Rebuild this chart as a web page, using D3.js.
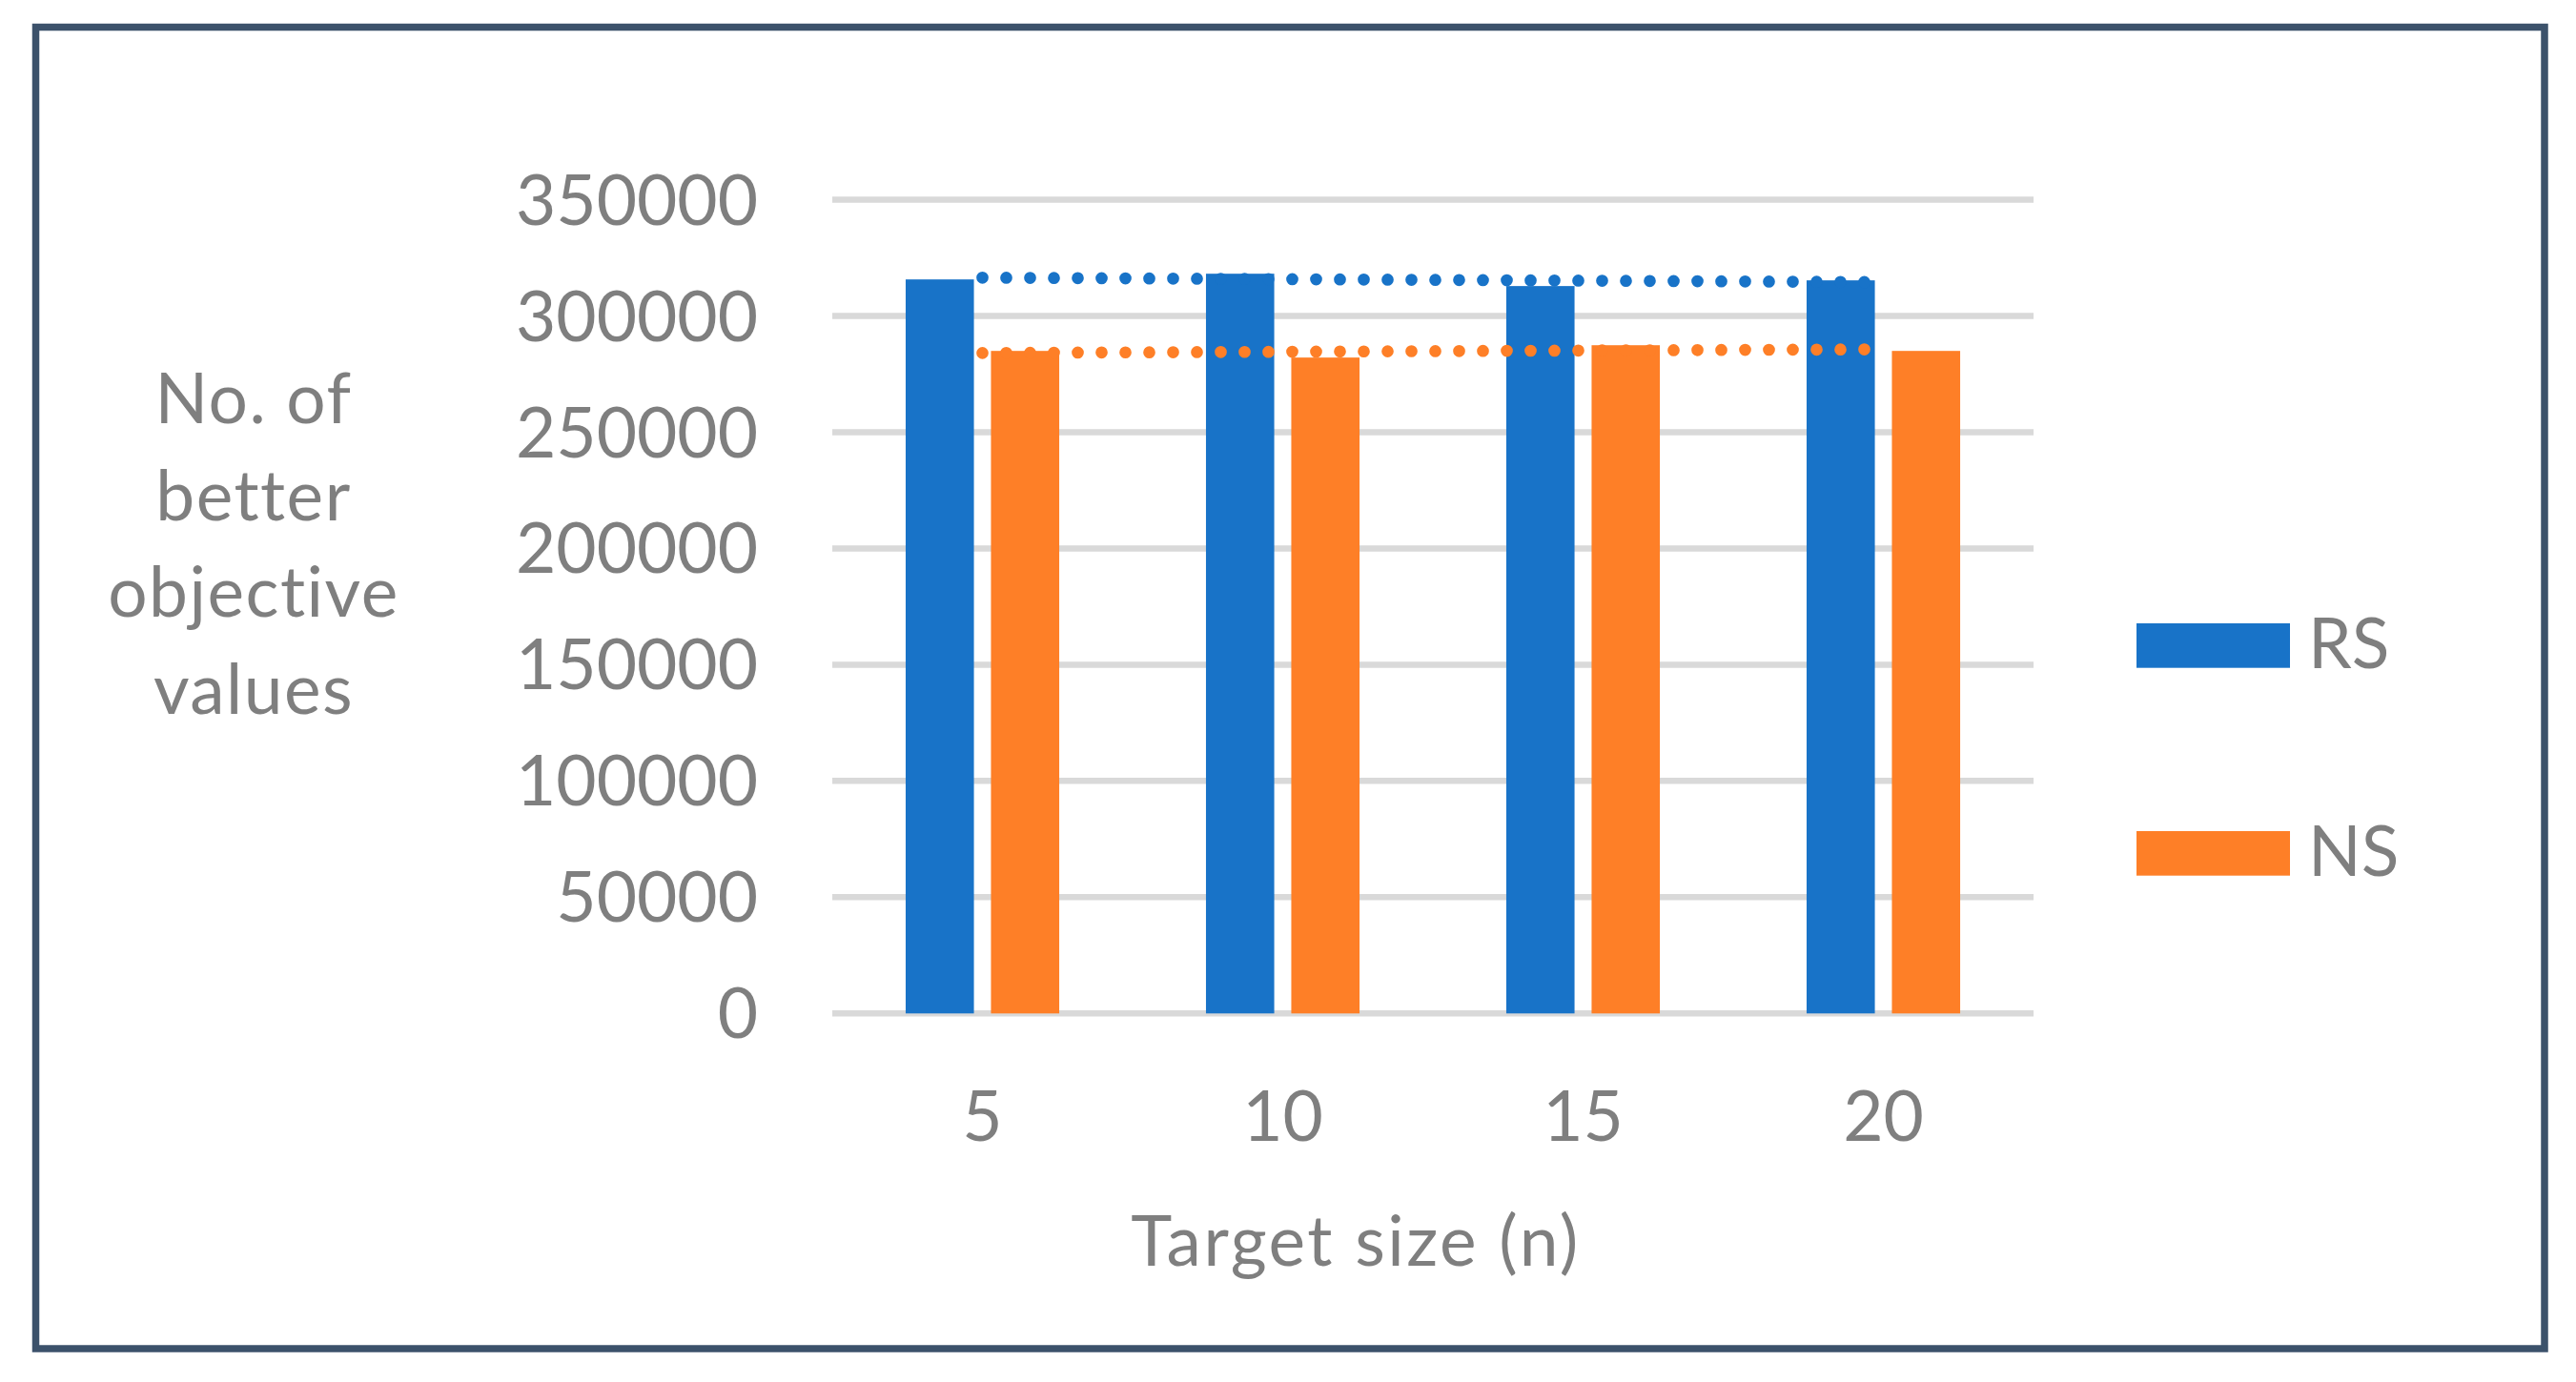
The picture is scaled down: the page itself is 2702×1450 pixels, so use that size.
<!DOCTYPE html>
<html>
<head>
<meta charset="utf-8">
<script src="https://cdn.jsdelivr.net/npm/d3@7"></script>
<style>
  html, body { margin: 0; padding: 0; background: #fff; }
  text { font-family: Lato, "Noto Sans", sans-serif; fill: #7f7f7f; font-variant-ligatures: none; font-feature-settings: "liga" 0; }
</style>
</head>
<body>
<svg id="chart"></svg>
<script>
// data
const categories = ["5", "10", "15", "20"];
const series = ["RS", "NS"];
const rsValues = [315700, 318150, 312850, 315300];
const nsValues = [284950, 282100, 287400, 284950];
const yTicks = [0, 50000, 100000, 150000, 200000, 250000, 300000, 350000];
const yTitle = ["No. of", "better", "objective", "values"];
const xTitle = "Target size (n)";

const colors = {RS: "#1873c8", NS: "#fe7f27"};
const W = 2702, H = 1450;
const plot = {left: 873, right: 2133, top: 209.5, bottom: 1063.3};
const fontSize = 73;

const svg = d3.select("#chart")
  .attr("width", W)
  .attr("height", H);

svg.append("rect")
  .attr("x", 37.5).attr("y", 28.5)
  .attr("width", 2631.5).attr("height", 1386.5)
  .attr("fill", "#fff")
  .attr("stroke", "#3c526b")
  .attr("stroke-width", 7.5);

const x0 = d3.scaleBand()
  .domain(categories)
  .range([plot.left, plot.right]);

const x1 = d3.scaleBand()
  .domain(series)
  .range([0, x0.bandwidth()])
  .paddingInner(0.2)
  .paddingOuter(0.86);

const y = d3.scaleLinear()
  .domain([0, 350000])
  .range([plot.bottom, plot.top]);

// gridlines
svg.append("g")
  .selectAll("line")
  .data(yTicks)
  .join("line")
  .attr("x1", plot.left).attr("x2", plot.right)
  .attr("y1", d => y(d)).attr("y2", d => y(d))
  .attr("stroke", "#d9d9d9")
  .attr("stroke-width", 6.5);

// y axis labels
const yAxis = svg.append("g")
  .attr("transform", `translate(${plot.left},0)`)
  .call(d3.axisLeft(y).tickValues(yTicks).tickSize(0).tickPadding(78).tickFormat(d3.format("d")));
yAxis.select(".domain").remove();
yAxis.selectAll("text")
  .attr("font-size", fontSize)
  .attr("font-family", null)
  .attr("dy", "0.35em");

// x axis labels
const xAxis = svg.append("g")
  .attr("transform", `translate(0,${plot.bottom})`)
  .call(d3.axisBottom(x0).tickSize(0).tickPadding(82));
xAxis.select(".domain").remove();
xAxis.selectAll("text")
  .attr("font-size", fontSize)
  .attr("font-family", null);

// bars
const rows = categories.map((c, i) => ({cat: c, RS: rsValues[i], NS: nsValues[i]}));

svg.append("g")
  .selectAll("g")
  .data(rows)
  .join("g")
  .attr("transform", d => `translate(${x0(d.cat)},0)`)
  .selectAll("rect")
  .data(d => series.map(s => ({key: s, value: d[s]})))
  .join("rect")
  .attr("x", d => x1(d.key))
  .attr("width", x1.bandwidth())
  .attr("y", d => y(d.value))
  .attr("height", d => y(0) - y(d.value))
  .attr("fill", d => colors[d.key]);

// linear trendlines (least squares over category index)
function trend(vals) {
  const n = vals.length;
  const xs = vals.map((v, i) => i + 1);
  const mx = d3.mean(xs), my = d3.mean(vals);
  const slope = d3.sum(xs, (xv, i) => (xv - mx) * (vals[i] - my)) / d3.sum(xs, xv => (xv - mx) ** 2);
  return [1, n].map(xv => ({cat: categories[xv - 1], v: my + slope * (xv - mx)}));
}

const trendLine = d3.line()
  .x(d => x0(d.cat) + x0.bandwidth() / 2)
  .y(d => y(d.v));

[["RS", rsValues], ["NS", nsValues]].forEach(([key, vals]) => {
  svg.append("path")
    .datum(trend(vals))
    .attr("d", trendLine)
    .attr("fill", "none")
    .attr("stroke", colors[key])
    .attr("stroke-width", 12.7)
    .attr("stroke-linecap", "round")
    .attr("stroke-dasharray", "0 25");
});

// y axis title
svg.append("text")
  .attr("text-anchor", "middle")
  .attr("font-size", fontSize)
  .attr("letter-spacing", 1.5)
  .selectAll("tspan")
  .data(yTitle)
  .join("tspan")
  .attr("x", 266)
  .attr("y", (d, i) => 444 + i * 101.7)
  .text(d => d);

// x axis title
svg.append("text")
  .attr("x", 1422)
  .attr("y", 1328)
  .attr("text-anchor", "middle")
  .attr("font-size", fontSize)
  .attr("letter-spacing", 2.5)
  .text(xTitle);

// legend
const legend = svg.append("g")
  .selectAll("g")
  .data(series)
  .join("g")
  .attr("transform", (d, i) => `translate(2241,${654 + i * 218})`);

legend.append("rect")
  .attr("width", 161)
  .attr("height", 46.7)
  .attr("fill", d => colors[d]);

legend.append("text")
  .attr("x", 180)
  .attr("y", 46.7)
  .attr("font-size", fontSize)
  .text(d => d);
</script>
</body>
</html>
